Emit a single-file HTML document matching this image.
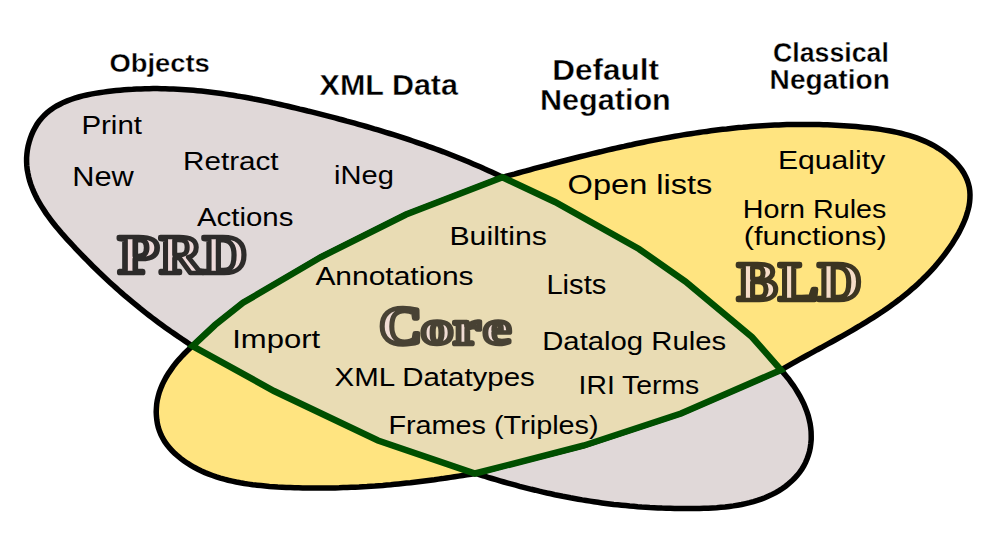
<!DOCTYPE html>
<html><head><meta charset="utf-8"><title>RIF dialects</title><style>
html,body{margin:0;padding:0;background:#fff;width:1000px;height:548px;overflow:hidden}
svg{display:block}
</style></head><body>
<svg width="1000" height="548" viewBox="0 0 1000 548">
<rect width="1000" height="548" fill="#fff"/>
<path d="M192.5,346.0 L189.0,343.7 L185.5,341.4 L182.0,339.1 L178.6,336.7 L175.2,334.4 L171.8,332.1 L168.5,329.7 L165.2,327.4 L161.9,325.0 L158.7,322.7 L155.5,320.3 L152.3,317.9 L149.2,315.5 L146.1,313.1 L143.0,310.6 L139.9,308.2 L136.9,305.7 L133.8,303.2 L130.8,300.7 L127.8,298.2 L124.8,295.7 L121.9,293.1 L118.9,290.5 L116.0,287.9 L113.1,285.3 L110.2,282.7 L107.3,280.0 L104.4,277.3 L101.5,274.5 L98.6,271.8 L95.8,269.0 L92.9,266.2 L90.0,263.3 L87.2,260.4 L84.3,257.5 L81.5,254.6 L78.6,251.6 L75.7,248.6 L72.9,245.5 L70.0,242.4 L67.1,239.3 L64.3,236.2 L61.5,233.0 L58.8,229.7 L56.0,226.5 L53.4,223.2 L50.8,219.8 L48.3,216.5 L45.9,213.1 L43.6,209.6 L41.4,206.1 L39.3,202.6 L37.3,199.1 L35.5,195.5 L33.8,191.9 L32.3,188.3 L30.9,184.6 L29.7,180.9 L28.7,177.1 L27.9,173.3 L27.2,169.5 L26.8,165.7 L26.6,161.8 L26.6,157.9 L26.9,154.0 L27.4,150.0 L28.1,146.1 L29.1,142.2 L30.3,138.4 L31.7,134.6 L33.3,131.0 L35.1,127.5 L37.1,124.1 L39.3,120.9 L41.8,118.0 L44.4,115.2 L47.2,112.6 L50.2,110.2 L53.3,108.0 L56.6,106.0 L60.0,104.2 L63.5,102.4 L67.2,100.9 L70.9,99.5 L74.8,98.2 L78.7,97.0 L82.7,95.9 L86.8,95.0 L90.9,94.1 L95.1,93.4 L99.2,92.7 L103.4,92.1 L107.6,91.5 L111.8,91.0 L116.0,90.6 L120.2,90.2 L124.3,89.8 L128.5,89.5 L132.6,89.3 L136.7,89.0 L140.9,88.9 L145.0,88.8 L149.1,88.7 L153.1,88.6 L157.2,88.6 L161.3,88.7 L165.3,88.7 L169.4,88.9 L173.4,89.0 L177.5,89.2 L181.5,89.4 L185.5,89.7 L189.5,90.0 L193.5,90.3 L197.5,90.7 L201.5,91.1 L205.5,91.5 L209.5,92.0 L213.4,92.5 L217.4,93.0 L221.4,93.5 L225.3,94.1 L229.3,94.7 L233.2,95.3 L237.1,96.0 L241.1,96.6 L245.0,97.3 L249.0,98.0 L252.9,98.8 L256.8,99.5 L260.7,100.3 L264.6,101.1 L268.6,101.9 L272.5,102.8 L276.4,103.6 L280.3,104.5 L284.2,105.4 L288.1,106.3 L292.0,107.2 L295.9,108.1 L299.8,109.1 L303.8,110.0 L307.7,111.0 L311.6,111.9 L315.5,112.9 L319.4,113.9 L323.3,114.9 L327.2,115.9 L331.1,116.9 L335.1,117.9 L339.0,119.0 L342.9,120.0 L346.8,121.1 L350.7,122.1 L354.6,123.2 L358.5,124.3 L362.4,125.4 L366.3,126.5 L370.2,127.6 L374.1,128.8 L378.0,129.9 L381.9,131.1 L385.7,132.3 L389.6,133.5 L393.5,134.7 L397.4,135.9 L401.2,137.1 L405.1,138.4 L408.9,139.7 L412.8,141.0 L416.6,142.3 L420.4,143.6 L424.3,144.9 L428.1,146.3 L431.9,147.6 L435.7,149.0 L439.5,150.4 L443.3,151.8 L447.1,153.3 L450.8,154.7 L454.6,156.2 L458.3,157.7 L462.1,159.2 L465.8,160.8 L469.5,162.3 L473.2,163.9 L476.9,165.5 L480.6,167.1 L484.3,168.8 L488.0,170.4 L491.6,172.1 L495.3,173.8 L498.9,175.5 L502.5,177.3 L555.0,202.0 L639.0,249.0 L685.5,281.5 L752.0,337.0 L781.0,370.0 L783.5,372.9 L786.1,375.9 L788.6,379.0 L791.0,382.3 L793.4,385.6 L795.7,389.1 L797.9,392.7 L800.0,396.3 L801.9,400.0 L803.8,403.8 L805.4,407.7 L806.9,411.6 L808.2,415.6 L809.2,419.6 L810.1,423.6 L810.7,427.6 L811.1,431.6 L811.2,435.7 L811.2,439.7 L810.8,443.6 L810.3,447.6 L809.5,451.4 L808.4,455.2 L807.1,458.8 L805.6,462.4 L803.8,465.9 L801.8,469.2 L799.6,472.4 L797.1,475.4 L794.5,478.3 L791.7,481.1 L788.7,483.7 L785.6,486.2 L782.4,488.5 L779.1,490.6 L775.7,492.6 L772.2,494.4 L768.6,496.1 L764.9,497.7 L761.2,499.1 L757.4,500.4 L753.5,501.6 L749.6,502.7 L745.6,503.6 L741.6,504.5 L737.5,505.2 L733.4,505.9 L729.3,506.4 L725.1,506.9 L720.9,507.3 L716.7,507.7 L712.4,507.9 L708.2,508.2 L703.9,508.3 L699.7,508.4 L695.5,508.5 L691.2,508.6 L687.0,508.6 L682.8,508.6 L678.6,508.5 L674.5,508.4 L670.3,508.3 L666.2,508.2 L662.1,508.1 L658.0,507.9 L653.9,507.7 L649.8,507.5 L645.8,507.2 L641.7,507.0 L637.7,506.7 L633.7,506.3 L629.7,506.0 L625.7,505.6 L621.7,505.2 L617.7,504.8 L613.7,504.4 L609.8,503.9 L605.8,503.4 L601.9,502.9 L597.9,502.3 L594.0,501.7 L590.1,501.1 L586.1,500.5 L582.2,499.9 L578.3,499.2 L574.4,498.5 L570.5,497.8 L566.6,497.0 L562.7,496.3 L558.8,495.5 L554.8,494.7 L550.9,493.8 L547.0,493.0 L543.1,492.1 L539.2,491.2 L535.3,490.2 L531.4,489.3 L527.5,488.3 L523.6,487.3 L519.6,486.3 L515.7,485.2 L511.8,484.2 L507.8,483.1 L503.9,482.0 L499.9,480.8 L496.0,479.7 L492.0,478.5 L488.0,477.3 L484.0,476.0 L480.0,474.8 L476.0,473.5 L378.0,440.5 L274.0,391.0 Z" fill="#e0d8d8" stroke="#000" stroke-width="5.50"/>
<path d="M502.5,177.3 L506.4,176.2 L510.3,175.1 L514.3,174.1 L518.2,173.0 L522.1,171.9 L526.0,170.9 L529.9,169.8 L533.8,168.7 L537.7,167.7 L541.7,166.6 L545.6,165.6 L549.5,164.6 L553.4,163.5 L557.3,162.5 L561.2,161.5 L565.2,160.5 L569.1,159.5 L573.0,158.5 L576.9,157.5 L580.8,156.5 L584.7,155.6 L588.7,154.6 L592.6,153.6 L596.5,152.7 L600.4,151.8 L604.3,150.8 L608.3,149.9 L612.2,149.0 L616.1,148.1 L620.0,147.2 L624.0,146.4 L627.9,145.5 L631.8,144.7 L635.7,143.8 L639.7,143.0 L643.6,142.2 L647.5,141.4 L651.5,140.6 L655.4,139.9 L659.4,139.1 L663.3,138.4 L667.3,137.7 L671.2,137.0 L675.1,136.3 L679.1,135.6 L683.1,134.9 L687.0,134.3 L691.0,133.7 L694.9,133.1 L698.9,132.5 L702.9,131.9 L706.8,131.4 L710.8,130.8 L714.8,130.3 L718.7,129.8 L722.7,129.3 L726.7,128.9 L730.7,128.4 L734.7,128.0 L738.7,127.6 L742.7,127.3 L746.7,126.9 L750.7,126.6 L754.7,126.3 L758.7,126.0 L762.7,125.7 L766.7,125.5 L770.7,125.3 L774.8,125.1 L778.8,124.9 L782.8,124.7 L786.8,124.6 L790.9,124.5 L794.9,124.5 L799.0,124.4 L803.0,124.4 L807.1,124.4 L811.1,124.4 L815.2,124.5 L819.3,124.6 L823.4,124.7 L827.4,124.8 L831.5,125.0 L835.6,125.2 L839.7,125.4 L843.8,125.7 L847.9,126.0 L852.0,126.3 L856.1,126.6 L860.2,127.0 L864.4,127.4 L868.5,127.8 L872.6,128.3 L876.7,128.8 L880.8,129.4 L884.9,130.1 L889.0,130.8 L893.0,131.5 L897.1,132.4 L901.0,133.3 L905.0,134.3 L908.9,135.4 L912.8,136.6 L916.6,137.9 L920.3,139.4 L924.0,140.9 L927.7,142.5 L931.2,144.3 L934.7,146.2 L938.2,148.3 L941.5,150.4 L944.8,152.8 L948.0,155.3 L951.0,157.9 L954.0,160.7 L956.8,163.6 L959.4,166.7 L961.8,169.9 L963.9,173.2 L965.7,176.6 L967.2,180.1 L968.4,183.7 L969.3,187.3 L969.8,191.0 L970.0,194.7 L969.9,198.5 L969.6,202.3 L969.0,206.1 L968.1,209.9 L967.0,213.7 L965.8,217.5 L964.3,221.3 L962.6,225.1 L960.8,228.9 L958.9,232.6 L956.8,236.3 L954.6,239.9 L952.4,243.5 L950.0,247.0 L947.6,250.4 L945.1,253.8 L942.6,257.1 L940.1,260.3 L937.4,263.5 L934.8,266.6 L932.1,269.6 L929.3,272.6 L926.5,275.5 L923.6,278.3 L920.8,281.1 L917.8,283.9 L914.9,286.6 L911.8,289.2 L908.8,291.8 L905.7,294.3 L902.6,296.8 L899.5,299.3 L896.3,301.7 L893.1,304.1 L889.8,306.4 L886.6,308.7 L883.3,311.0 L879.9,313.2 L876.6,315.4 L873.2,317.6 L869.8,319.7 L866.4,321.8 L863.0,323.9 L859.6,326.0 L856.1,328.0 L852.6,330.1 L849.1,332.1 L845.6,334.1 L842.1,336.1 L838.6,338.0 L835.1,340.0 L831.5,342.0 L828.0,343.9 L824.4,345.8 L820.9,347.8 L817.3,349.7 L813.8,351.7 L810.2,353.6 L806.7,355.5 L803.1,357.5 L799.6,359.4 L796.1,361.4 L792.5,363.4 L789.0,365.4 L785.5,367.4 L782.0,369.4 L681.0,413.5 L584.0,445.5 L475.0,473.5 L470.9,474.2 L466.8,474.9 L462.7,475.5 L458.6,476.1 L454.5,476.8 L450.5,477.4 L446.4,478.0 L442.4,478.6 L438.4,479.1 L434.4,479.7 L430.4,480.2 L426.4,480.7 L422.4,481.2 L418.4,481.7 L414.4,482.2 L410.5,482.7 L406.5,483.1 L402.6,483.5 L398.6,483.9 L394.7,484.3 L390.7,484.7 L386.8,485.0 L382.8,485.4 L378.9,485.7 L374.9,486.0 L371.0,486.2 L367.0,486.5 L363.0,486.7 L359.1,487.0 L355.1,487.2 L351.1,487.3 L347.2,487.5 L343.2,487.6 L339.2,487.8 L335.2,487.9 L331.2,487.9 L327.1,488.0 L323.1,488.0 L319.1,488.0 L315.0,488.0 L310.9,488.0 L306.8,488.0 L302.7,487.9 L298.6,487.8 L294.5,487.7 L290.3,487.5 L286.2,487.4 L282.0,487.2 L277.8,487.0 L273.6,486.7 L269.4,486.4 L265.2,486.0 L261.0,485.6 L256.9,485.2 L252.7,484.7 L248.5,484.1 L244.4,483.5 L240.3,482.8 L236.2,482.0 L232.2,481.1 L228.2,480.2 L224.2,479.2 L220.3,478.1 L216.4,476.9 L212.5,475.5 L208.8,474.1 L205.0,472.6 L201.4,471.0 L197.8,469.2 L194.2,467.3 L190.8,465.3 L187.4,463.2 L184.1,461.0 L180.9,458.6 L177.7,456.0 L174.8,453.4 L171.9,450.6 L169.3,447.6 L166.8,444.6 L164.6,441.4 L162.6,438.0 L160.9,434.6 L159.5,431.0 L158.3,427.4 L157.4,423.6 L156.8,419.8 L156.4,415.9 L156.2,412.0 L156.4,408.1 L156.7,404.1 L157.3,400.2 L158.2,396.3 L159.3,392.3 L160.7,388.5 L162.3,384.6 L164.1,380.9 L166.1,377.2 L168.3,373.6 L170.7,370.1 L173.1,366.6 L175.7,363.3 L178.4,360.1 L181.2,357.0 L184.0,354.0 L186.8,351.2 L189.7,348.5 L192.5,346.0 L215.0,325.0 L243.0,302.8 L321.0,257.0 L406.0,214.5 Z" fill="#ffe480" stroke="#000" stroke-width="5.50"/>
<path d="M502.5,177.3 L555.0,202.0 L639.0,249.0 L685.5,281.5 L752.0,337.0 L781.0,370.0 L681.0,413.5 L584.0,445.5 L475.0,473.5 L378.0,440.5 L274.0,391.0 L192.5,346.0 L215.0,325.0 L243.0,302.8 L321.0,257.0 L406.0,214.5 Z" fill="#e9dcb4" stroke="#004f00" stroke-width="6.50" stroke-linejoin="miter"/>
<g font-family="Liberation Sans, sans-serif" fill="#000">
<text x="81.40" y="133.80" font-size="26.02" textLength="60.60" lengthAdjust="spacingAndGlyphs">Print</text>
<text x="72.20" y="186.10" font-size="28.05" textLength="61.60" lengthAdjust="spacingAndGlyphs">New</text>
<text x="183.00" y="170.00" font-size="25.58" textLength="95.60" lengthAdjust="spacingAndGlyphs">Retract</text>
<text x="197.00" y="225.70" font-size="25.87" textLength="96.40" lengthAdjust="spacingAndGlyphs">Actions</text>
<text x="334.00" y="184.00" font-size="26.45" textLength="59.80" lengthAdjust="spacingAndGlyphs">iNeg</text>
<text x="449.40" y="245.10" font-size="25.29" textLength="97.60" lengthAdjust="spacingAndGlyphs">Builtins</text>
<text x="315.40" y="284.70" font-size="25.58" textLength="158.20" lengthAdjust="spacingAndGlyphs">Annotations</text>
<text x="546.40" y="294.30" font-size="26.74" textLength="60.00" lengthAdjust="spacingAndGlyphs">Lists</text>
<text x="232.20" y="348.00" font-size="26.45" textLength="88.00" lengthAdjust="spacingAndGlyphs">Import</text>
<text x="334.60" y="386.30" font-size="26.02" textLength="200.20" lengthAdjust="spacingAndGlyphs">XML Datatypes</text>
<text x="542.20" y="350.30" font-size="25.00" textLength="184.00" lengthAdjust="spacingAndGlyphs">Datalog Rules</text>
<text x="578.60" y="394.10" font-size="26.45" textLength="120.60" lengthAdjust="spacingAndGlyphs">IRI Terms</text>
<text x="388.40" y="433.60" font-size="26.16" textLength="210.20" lengthAdjust="spacingAndGlyphs">Frames (Triples)</text>
<text x="567.60" y="194.10" font-size="28.34" textLength="144.80" lengthAdjust="spacingAndGlyphs">Open lists</text>
<text x="778.00" y="169.10" font-size="25.87" textLength="107.20" lengthAdjust="spacingAndGlyphs">Equality</text>
<text x="742.80" y="218.20" font-size="25.44" textLength="143.60" lengthAdjust="spacingAndGlyphs">Horn Rules</text>
<text x="743.80" y="244.50" font-size="25.15" textLength="143.00" lengthAdjust="spacingAndGlyphs">(functions)</text>
<text x="109.40" y="72.20" font-size="26.45" textLength="100.40" lengthAdjust="spacingAndGlyphs" font-weight="bold" stroke="#fff" stroke-width="0.35">Objects</text>
<text x="319.60" y="94.90" font-size="28.63" textLength="138.40" lengthAdjust="spacingAndGlyphs" font-weight="bold" stroke="#fff" stroke-width="0.35">XML Data</text>
<text x="552.20" y="80.40" font-size="29.07" textLength="106.80" lengthAdjust="spacingAndGlyphs" font-weight="bold" stroke="#fff" stroke-width="0.35">Default</text>
<text x="540.00" y="109.50" font-size="28.78" textLength="130.80" lengthAdjust="spacingAndGlyphs" font-weight="bold" stroke="#fff" stroke-width="0.35">Negation</text>
<text x="773.00" y="61.60" font-size="26.74" textLength="115.80" lengthAdjust="spacingAndGlyphs" font-weight="bold" stroke="#fff" stroke-width="0.35">Classical</text>
<text x="769.60" y="88.60" font-size="27.04" textLength="120.20" lengthAdjust="spacingAndGlyphs" font-weight="bold" stroke="#fff" stroke-width="0.35">Negation</text>
<text y="273.20" font-size="54.06" font-family="Liberation Serif, serif" font-weight="bold" fill="#eedada" stroke="#2d2b2a" stroke-width="4.60" stroke-linejoin="round"><tspan x="118.30" textLength="40.80" lengthAdjust="spacingAndGlyphs">P</tspan><tspan x="159.50" textLength="43.00" lengthAdjust="spacingAndGlyphs">R</tspan><tspan x="202.70" textLength="44.20" lengthAdjust="spacingAndGlyphs">D</tspan></text>
<text y="344.40" font-size="54.06" font-family="Liberation Serif, serif" font-weight="bold" fill="#f0dcd4" stroke="#484234" stroke-width="4.60" stroke-linejoin="round"><tspan x="379.30" textLength="43.00" lengthAdjust="spacingAndGlyphs">C</tspan><tspan x="420.90" textLength="32.20" lengthAdjust="spacingAndGlyphs" font-size="48.66">o</tspan><tspan x="453.30" textLength="27.40" lengthAdjust="spacingAndGlyphs" font-size="48.66">r</tspan><tspan x="483.30" textLength="27.60" lengthAdjust="spacingAndGlyphs" font-size="48.66">e</tspan></text>
<text y="300.20" font-size="54.06" font-family="Liberation Serif, serif" font-weight="bold" fill="#f5dcc8" stroke="#3c3521" stroke-width="4.60" stroke-linejoin="round"><tspan x="737.30" textLength="40.20" lengthAdjust="spacingAndGlyphs">B</tspan><tspan x="778.50" textLength="39.80" lengthAdjust="spacingAndGlyphs">L</tspan><tspan x="817.70" textLength="43.80" lengthAdjust="spacingAndGlyphs">D</tspan></text>
</g>
</svg>
</body></html>
